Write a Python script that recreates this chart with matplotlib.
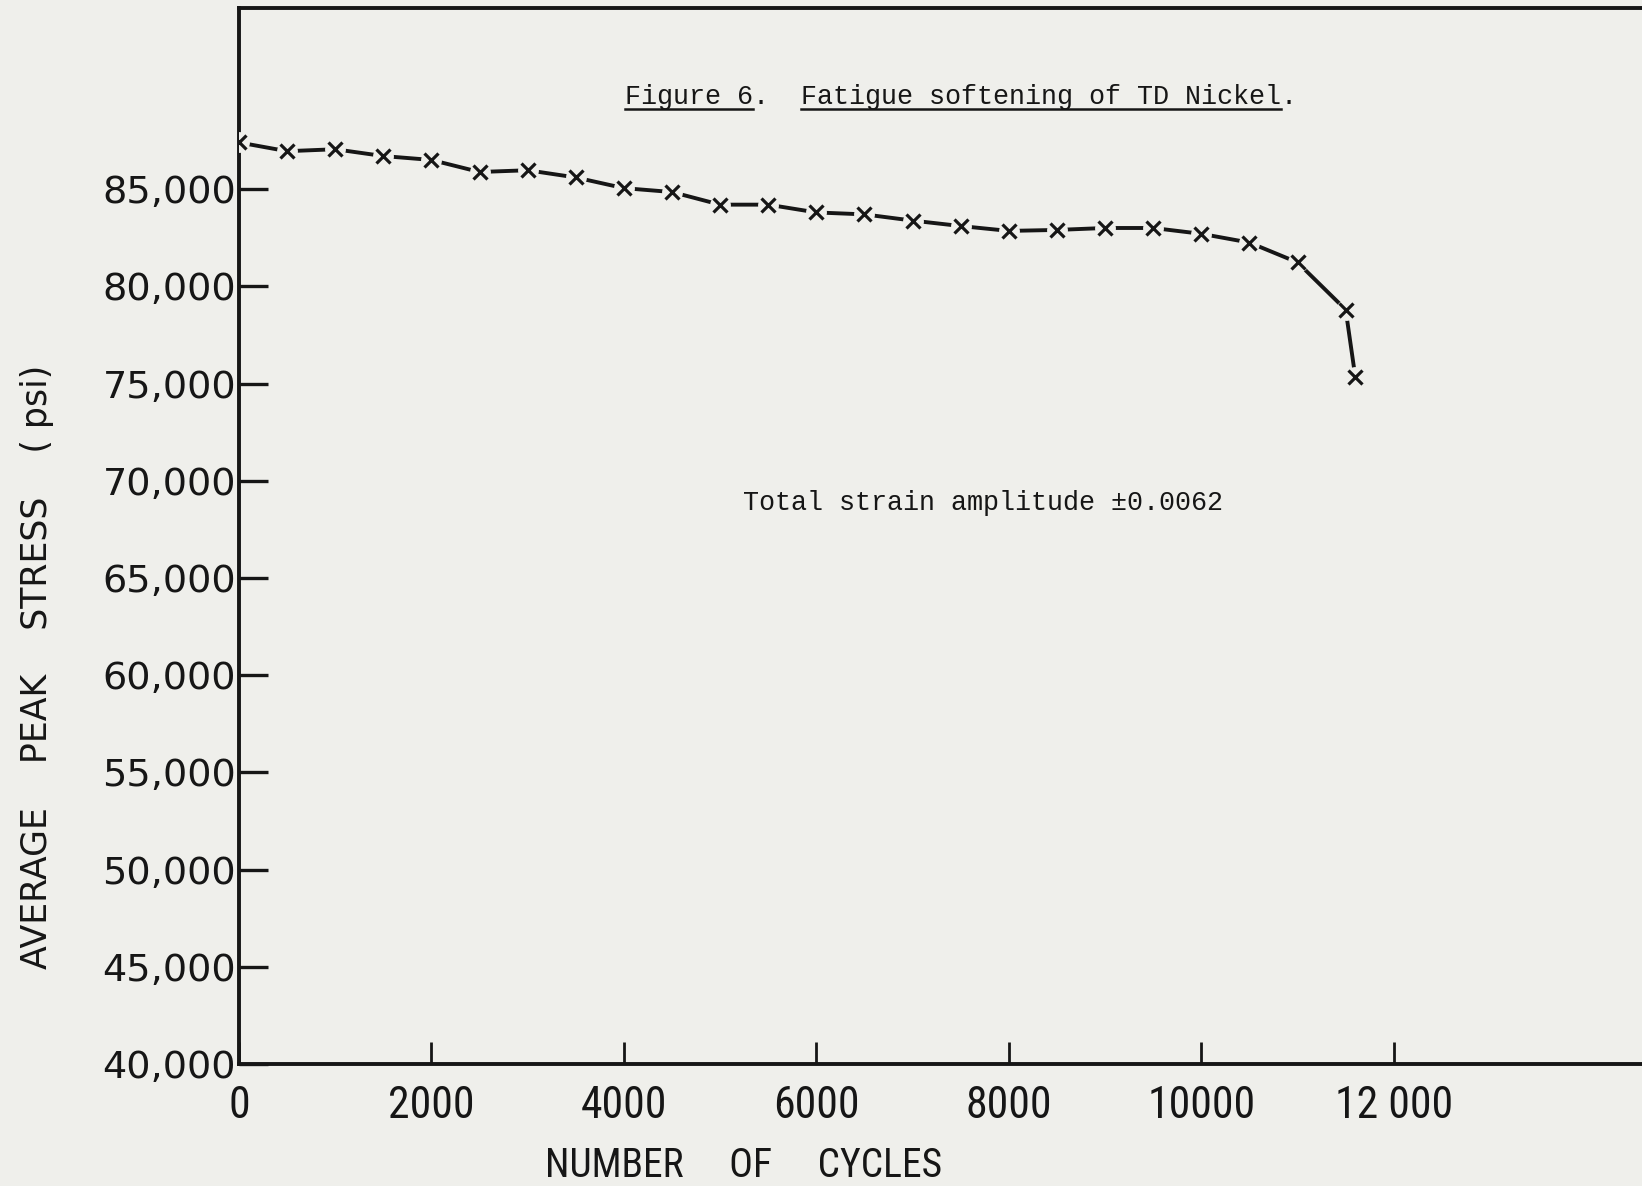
import matplotlib
matplotlib.use("Agg")
import matplotlib.pyplot as plt
from matplotlib.lines import Line2D
from matplotlib import font_manager

# data
cycles = [0, 500, 1000, 1500, 2000, 2500, 3000, 3500, 4000, 4500, 5000, 5500,
          6000, 6500, 7000, 7500, 8000, 8500, 9000, 9500, 10000, 10500, 11000,
          11500, 11600]
stress = [87400, 86950, 87050, 86700, 86500, 85880, 85970, 85600, 85050, 84850,
          84200, 84200, 83800, 83700, 83380, 83100, 82850, 82900, 83000, 83000,
          82700, 82250, 81230, 78800, 75350]

y_ticks = [40000, 45000, 50000, 55000, 60000, 65000, 70000, 75000, 80000, 85000]
y_ticklabels = ["40,000", "45,000", "50,000", "55,000", "60,000", "65,000",
                "70,000", "75,000", "80,000", "85,000"]
x_ticks = [0, 2000, 4000, 6000, 8000, 10000, 12000]
x_ticklabels = ["0", "2000", "4000", "6000", "8000", "10000", "12 000"]

paper = "#efefeb"
ink = "#161616"

# narrow lettering for the x axis if a condensed face is around
names = {f.name for f in font_manager.fontManager.ttflist}
narrow = "DejaVu Sans"
for cand in ["Liberation Sans Narrow", "DejaVu Sans Condensed", "Roboto Condensed"]:
    if cand in names:
        narrow = cand
        break
cond = [f for f in font_manager.fontManager.ttflist
        if f.name == "DejaVu Sans" and f.stretch == "condensed"]
narrow_kw = dict(family=narrow)
if narrow == "DejaVu Sans" and cond:
    narrow_kw["stretch"] = "condensed"

fig = plt.figure(figsize=(16.42, 11.86), dpi=100, facecolor=paper)
ax = fig.add_axes([0.1455, 0.1029, 0.8545 + 0.01, 0.8901])
ax.set_facecolor(paper)

# line, then paper-coloured blobs to open gaps round the markers, then the crosses
ax.plot(cycles, stress, color=ink, lw=2.8, zorder=2)
ax.plot(cycles, stress, ls="none", marker="o", ms=15, mfc=paper, mec="none", zorder=3)
ax.plot(cycles, stress, ls="none", marker="x", ms=9.5, mew=2.3, color=ink, zorder=4)

ax.set_xlim(0, 14750)
ax.set_ylim(40000, 94300)

for side in ["left", "bottom", "top"]:
    ax.spines[side].set_linewidth(2.8)
    ax.spines[side].set_color(ink)
ax.spines["right"].set_visible(False)

ax.set_yticks(y_ticks)
ax.set_yticklabels(y_ticklabels, fontsize=27.5, color=ink, family="DejaVu Sans")
ax.set_xticks(x_ticks)
ax.set_xticklabels(x_ticklabels, fontsize=31.5, color=ink, **narrow_kw)
ax.tick_params(axis="y", direction="in", length=21, width=2.4, pad=2, colors=ink)
ax.tick_params(axis="x", direction="in", length=16, width=2.0, pad=15, colors=ink)

fig.text(0.0225, 0.438, "AVERAGE    PEAK    STRESS    ( psi)", rotation=90,
         ha="center", va="center", fontsize=25, color=ink, family="DejaVu Sans")
fig.text(0.4527, 0.0175, "NUMBER     OF     CYCLES", ha="center", va="center",
         fontsize=28.5, color=ink, **narrow_kw)

ax.text(5240, 68870, "Total strain amplitude \u00b10.0062", ha="left", va="center",
        fontsize=19.3, color=ink, family="Liberation Mono")

title = "Figure 6.  Fatigue softening of TD Nickel."
t = fig.text(0.3805, 0.9185, title, ha="left", va="center", fontsize=19.3,
             color=ink, family="Liberation Mono")

# underline the two parts of the caption (monospaced, so split by character count)
fig.canvas.draw()
bb = t.get_window_extent(fig.canvas.get_renderer())
cw = bb.width / len(title)
uy = bb.y0 + 1
for i0, i1 in [(0, 8), (11, 41)]:
    fig.add_artist(Line2D([bb.x0 + i0 * cw, bb.x0 + i1 * cw], [uy, uy],
                          transform=None, color=ink, lw=1.8))

fig.savefig("out.png", dpi=100, facecolor=paper)
